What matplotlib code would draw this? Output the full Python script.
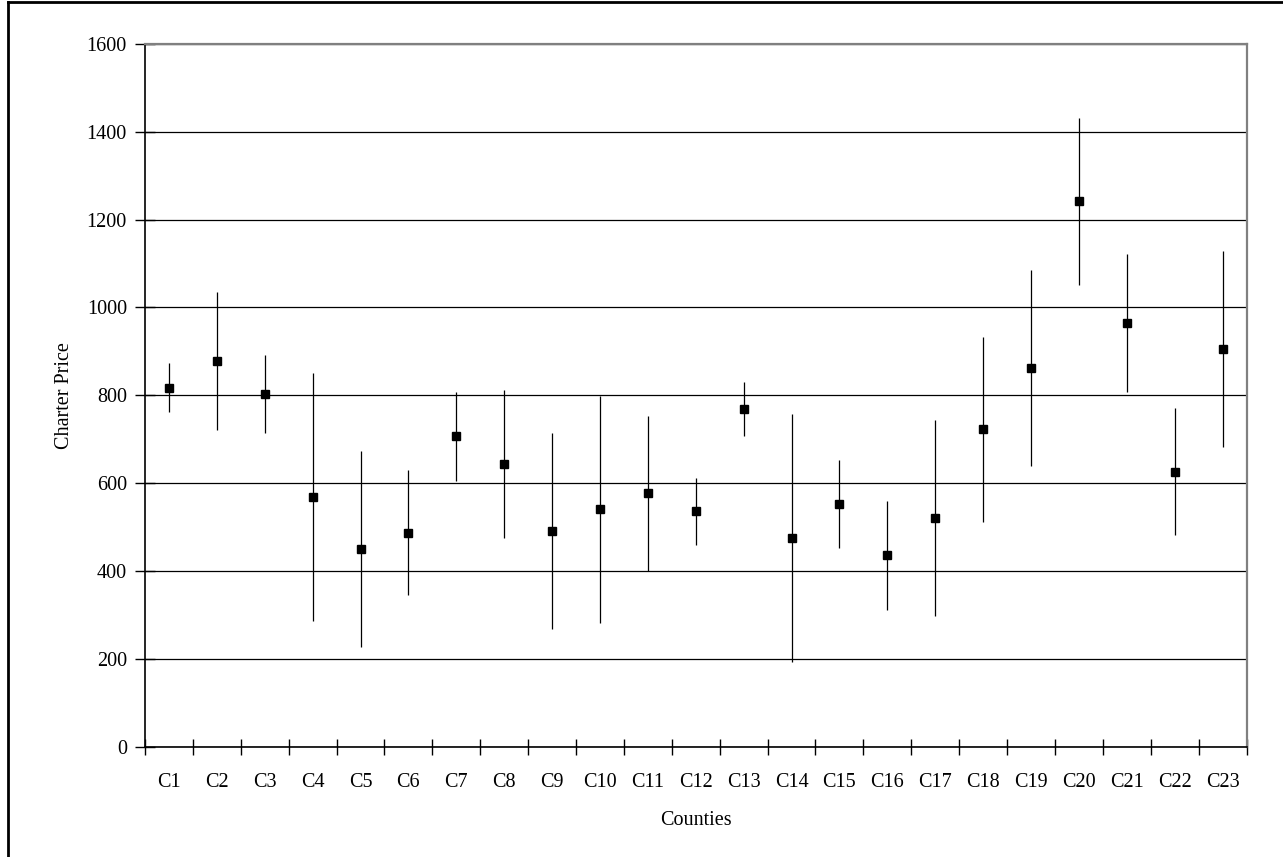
import matplotlib
matplotlib.use("Agg")
import matplotlib.pyplot as plt
from matplotlib.lines import Line2D
import numpy as np

counties = [f"C{i}" for i in range(1, 24)]
mean_price = [816, 878, 803, 568, 450, 486, 707, 643, 491, 541, 577, 536,
              769, 475, 552, 436, 520, 723, 861, 1242, 965, 625, 905]
upper = [873, 1035, 892, 851, 674, 629, 807, 812, 713, 798, 752, 612,
         831, 757, 652, 559, 744, 933, 1085, 1431, 1121, 770, 1128]
lower = [761, 720, 713, 285, 227, 346, 605, 474, 267, 282, 400, 460,
         708, 192, 452, 311, 298, 512, 638, 1051, 807, 481, 681]
y_ticks = [0, 200, 400, 600, 800, 1000, 1200, 1400, 1600]

plt.rcParams['font.family'] = ['Liberation Serif', 'DejaVu Serif']

W, H = 1283, 857
fig = plt.figure(figsize=(W / 100, H / 100), dpi=100)
ax = fig.add_axes([145 / W, 1 - 746.5 / H, (1246.5 - 145) / W, (746.5 - 44) / H])

x = np.arange(len(counties))
mean = np.array(mean_price)
yerr = np.vstack([mean - np.array(lower), np.array(upper) - mean])

ax.errorbar(x, mean, yerr=yerr, fmt='s', color='black', ecolor='black',
            elinewidth=0.9, markersize=5.2, capsize=0, zorder=3)

ax.set_xlim(-0.5, len(counties) - 0.5)
ax.set_ylim(0, 1600)
ax.set_yticks(y_ticks)
ax.set_yticklabels([str(v) for v in y_ticks], fontsize=14.5)
ax.yaxis.grid(True, color='black', linewidth=0.9)
ax.set_axisbelow(True)

ax.set_xticks(x)
ax.set_xticklabels(counties, fontsize=14.5)
ax.set_xticks(np.arange(-0.5, len(counties)), minor=True)
ax.tick_params(axis='x', which='major', length=0, pad=19)
ax.tick_params(axis='x', which='minor', length=12, direction='inout', width=1)
ax.tick_params(axis='y', which='major', length=14, direction='inout', width=1, pad=6)

for s in ['top', 'right']:
    ax.spines[s].set_color('#808080')
    ax.spines[s].set_linewidth(1.6)
for s in ['left', 'bottom']:
    ax.spines[s].set_color('black')
    ax.spines[s].set_linewidth(1.2)

ax.set_xlabel('Counties', fontsize=14.5, labelpad=14)
ax.set_ylabel('Charter Price', fontsize=14.5, labelpad=9)

# outer chart frame (top and left edges visible)
fig.add_artist(Line2D([8 / W, 8 / W], [0, 1 - 2 / H], transform=fig.transFigure,
                      color='black', linewidth=2))
fig.add_artist(Line2D([8 / W, 1], [1 - 2 / H, 1 - 2 / H], transform=fig.transFigure,
                      color='black', linewidth=2))

fig.savefig('out.png', dpi=100)
